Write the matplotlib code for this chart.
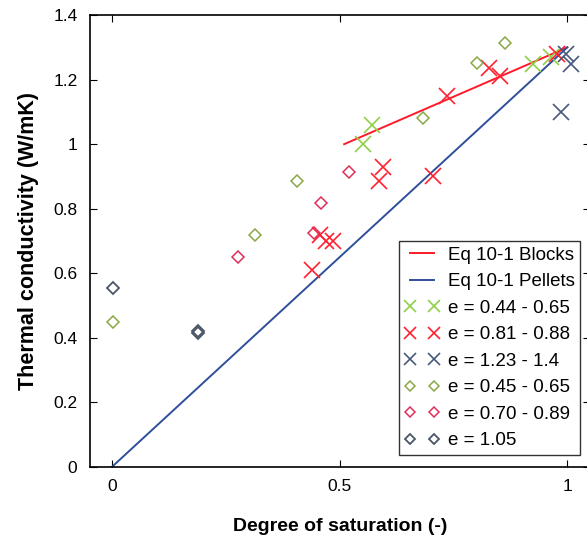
#! /usr/bin/env python3

import matplotlib
matplotlib.use("Agg")
import matplotlib.pyplot as plt

plt.rcParams['font.family'] = ['Liberation Sans', 'DejaVu Sans']

## Données

blocks_x = [0.51, 1.0]
blocks_y = [1.0, 1.3]
pellets_x = [0.0, 1.0]
pellets_y = [0.0, 1.3]

x_green = [0.552, 0.571, 0.925, 0.965]
y_green = [1.00, 1.06, 1.247, 1.27]

x_red = [0.44, 0.457, 0.47, 0.486, 0.587, 0.596, 0.706, 0.736, 0.827, 0.853, 0.978]
y_red = [0.61, 0.72, 0.70, 0.70, 0.885, 0.93, 0.90, 1.148, 1.237, 1.21, 1.28]

x_blue = [0.985, 0.996, 1.007]
y_blue = [1.10, 1.28, 1.247]

xd_green = [0.002, 0.314, 0.407, 0.684, 0.802, 0.864]
yd_green = [0.45, 0.72, 0.885, 1.08, 1.25, 1.315]

xd_red = [0.277, 0.444, 0.459, 0.52]
yd_red = [0.651, 0.725, 0.818, 0.915]

xd_gray = [0.002, 0.189, 0.189]
yd_gray = [0.555, 0.416, 0.42]

fig = plt.figure(figsize=(5.87, 5.38), dpi=100)
ax = fig.add_axes([0.1533, 0.132, 0.852, 0.840])

ax.plot(blocks_x, blocks_y, color="#ff1a2a", lw=1.4, label="Eq 10-1 Blocks")
ax.plot(pellets_x, pellets_y, color="#2f4f9a", lw=1.4, label="Eq 10-1 Pellets")

ax.plot(x_green, y_green, "x", color="#8fcf4a", ms=12, mew=1.2, label="e = 0.44 - 0.65")
ax.plot(x_red, y_red, "x", color="#ff2030", ms=12, mew=1.2, label="e = 0.81 - 0.88")
ax.plot(x_blue, y_blue, "x", color="#46597a", ms=12, mew=1.2, label="e = 1.23 - 1.4")
ax.plot(xd_green, yd_green, "D", mfc="none", mec="#8aa845", ms=6, mew=1.1, label="e = 0.45 - 0.65")
ax.plot(xd_red, yd_red, "D", mfc="none", mec="#e0305a", ms=6, mew=1.1, label="e = 0.70 - 0.89")
ax.plot(xd_gray, yd_gray, "D", mfc="none", mec="#4a5566", ms=6, mew=1.3, label="e = 1.05")

ax.set_xlim(-0.048, 1.05)
ax.set_ylim(0, 1.4)
ax.set_xticks([0, 0.5, 1])
ax.set_xticklabels(["0", "0.5", "1"])
ax.set_yticks([0, 0.2, 0.4, 0.6, 0.8, 1.0, 1.2, 1.4])
ax.set_yticklabels(["0", "0.2", "0.4", "0.6", "0.8", "1", "1.2", "1.4"])
ax.tick_params(direction="in", top=True, right=True, labelsize=12.5, length=5, pad=9)
for s in ax.spines.values():
    s.set_linewidth(1.2)

ax.set_xlabel("Degree of saturation (-)", fontsize=14, fontweight="bold", labelpad=17)
ax.set_ylabel("Thermal conductivity (W/mK)", fontsize=15.5, fontweight="bold", labelpad=10)

leg = ax.legend(loc="lower right", bbox_to_anchor=(0.98, 0.027), numpoints=2,
                fontsize=13.5, frameon=True, fancybox=False, edgecolor="black",
                handlelength=1.9, handletextpad=0.4, labelspacing=0.5, borderpad=0.3,
                borderaxespad=0)
leg.get_frame().set_linewidth(1.0)
for h in leg.legend_handles[2:5]:
    h.set_markersize(9)
for h in leg.legend_handles[5:]:
    h.set_markersize(5)

plt.savefig("out.png", dpi=100)
